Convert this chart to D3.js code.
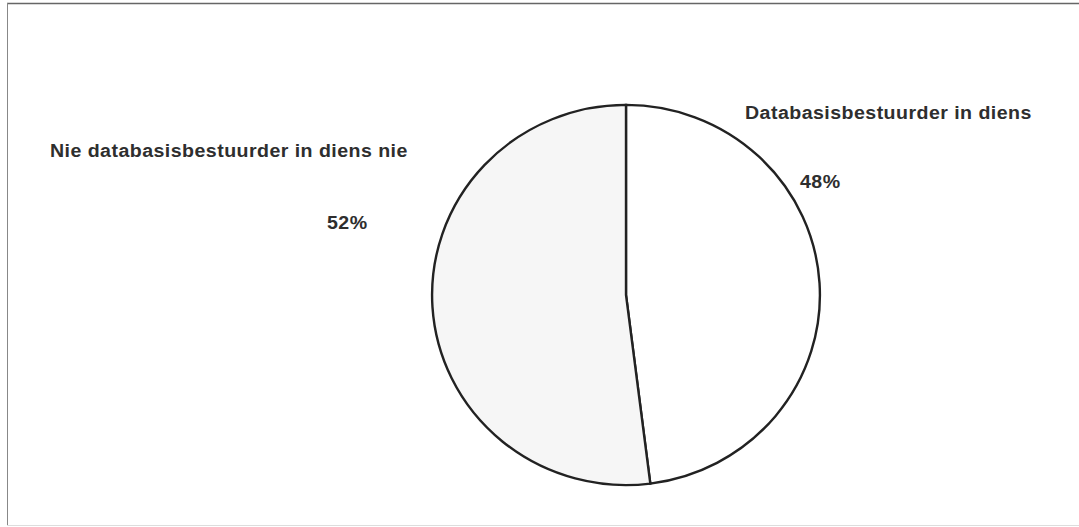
<!DOCTYPE html>
<html>
<head>
<meta charset="utf-8">
<script src="https://cdn.jsdelivr.net/npm/d3@7/dist/d3.min.js"></script>
<style>
  html, body { margin: 0; padding: 0; background: #fff; }
  svg { display: block; }
</style>
</head>
<body>
<svg id="chart" width="1079" height="527"></svg>
<script>
const categories = ["Databasisbestuurder in diens", "Nie databasisbestuurder in diens nie"];
const values = [48, 52];
const percentLabels = ["48%", "52%"];
const fills = ["#ffffff", "#f6f6f6"];

const svg = d3.select("#chart");

// frame
svg.append("line").attr("x1", 7).attr("x2", 1079).attr("y1", 3.5).attr("y2", 3.5)
  .attr("stroke", "#666").attr("stroke-width", 1.5);
svg.append("line").attr("x1", 7.5).attr("x2", 7.5).attr("y1", 3).attr("y2", 525)
  .attr("stroke", "#888").attr("stroke-width", 1);
svg.append("line").attr("x1", 7).attr("x2", 1079).attr("y1", 525.5).attr("y2", 525.5)
  .attr("stroke", "#ddd").attr("stroke-width", 1);

const cx = 626, cy = 295, r = 192;
const data = categories.map((c, i) => ({ cat: c, value: values[i], label: percentLabels[i], fill: fills[i] }));

const pie = d3.pie().sort(null).value(d => d.value);
const arc = d3.arc().innerRadius(0).outerRadius(r);

const g = svg.append("g").attr("transform", `translate(${cx},${cy}) scale(1.01,0.99)`);
g.selectAll("path").data(pie(data)).join("path")
  .attr("d", arc)
  .attr("fill", d => d.data.fill)
  .attr("stroke", "#222")
  .attr("stroke-width", 2.4)
  .attr("vector-effect", "non-scaling-stroke");

const font = "Liberation Sans, Arial, sans-serif";
const txt = (x, y, s) => svg.append("text")
  .attr("transform", `translate(${x},${y}) scale(1.12,1)`)
  .attr("font-family", font).attr("font-weight", "bold").attr("font-size", 17.5)
  .attr("letter-spacing", 0.4)
  .attr("fill", "#2e2e2e").text(s);

txt(745, 119, data[0].cat);
txt(800, 188, data[0].label);
txt(50, 157, data[1].cat);
txt(327, 229, data[1].label);
</script>
</body>
</html>
